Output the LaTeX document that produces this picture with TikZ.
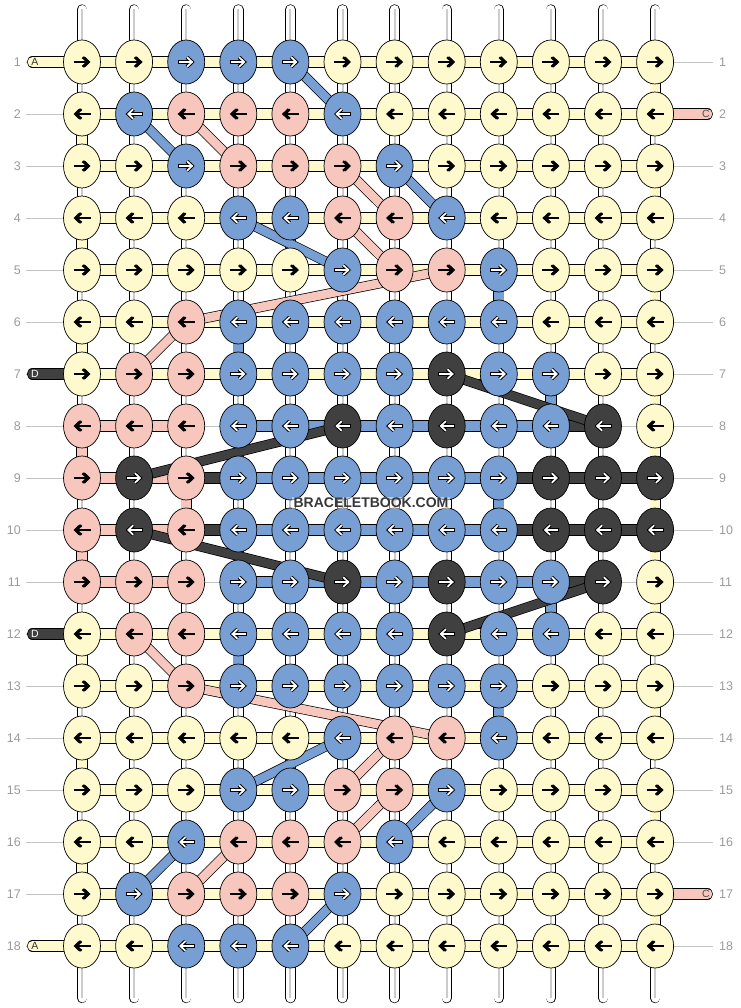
\documentclass[tikz,border=0pt]{standalone}
\usepackage{fontspec}
\setmainfont{Liberation Sans}
\usetikzlibrary{arrows.meta,shapes.geometric}

\definecolor{ky}{HTML}{FFFACD}
\definecolor{kb}{HTML}{789FD3}
\definecolor{kp}{HTML}{F7C7BE}
\definecolor{kd}{HTML}{404040}
\definecolor{lblgray}{HTML}{9B9B9B}
\definecolor{linegray}{HTML}{C4C4C4}

\pgfdeclarelayer{back}
\pgfdeclarelayer{mid}
\pgfsetlayers{back,mid,main}

\tikzset{
	knot/.style={ellipse,draw=black,line width=0.7pt,minimum width=37pt,minimum height=44pt,inner sep=0pt,fill=#1},
	band/.style={draw=black,line width=0.7pt,double=#1,double distance=9.8pt},
	strand/.style={draw=black,line width=0.7pt,double=#1,double distance=8.6pt},
	tag/.style={band=#1,line cap=round},
	warp/.style={draw=black,line width=0.7pt,double=white,double distance=9pt,line cap=round},
	warpcore/.style={draw=black!20,line width=2pt},
	rowlbl/.style={text=lblgray,font=\fontsize{12.5}{13}\selectfont,inner sep=2.5pt},
	rowline/.style={draw=linegray,line width=0.8pt},
	taglbl/.style={font=\fontsize{10.5}{11}\selectfont,inner sep=0pt},
	tipb/.style={-{Straight Barb[length=5pt,width=9.5pt]}},
	arrback y/.style={tipb,black,line width=2.2pt},
	arrback p/.style={arrback y},
	arrback b/.style={tipb,black,line width=3.8pt},
	arrback d/.style={arrback b},
	arrfront y/.style={arrback y},
	arrfront p/.style={arrback y},
	arrfront b/.style={tipb,white,line width=1.7pt},
	arrfront d/.style={arrfront b}
}

% knot at row #1, column #2, colour #3
\newcommand{\putknot}[3]{%
	\node[knot=k#3] (k#1-#2) at ({82+52.1*(#2-1)},{62+52*(#1-1)}) {};
	\ifodd#1\relax\def\ta{-}\def\tb{}\else\def\ta{}\def\tb{-}\fi
	\draw[arrback #3] ([xshift=\ta 8.5pt]k#1-#2.center) -- ([xshift=\tb 8.5pt]k#1-#2.center);
	\draw[arrfront #3] ([xshift=\ta 7.5pt]k#1-#2.center) -- ([xshift=\tb 7.1pt]k#1-#2.center);
}
\newcommand{\knotrow}[2]{\foreach \k [count=\c] in {#2} {\edef\knotcall{\noexpand\putknot{#1}{\c}{\k}}\knotcall}}

\begin{document}
\begin{tikzpicture}[x=1pt,y=-1pt]
	\useasboundingbox (0,0) rectangle (740,1008);

	\knotrow{1}{y,y,b,b,b,y,y,y,y,y,y,y}
	\knotrow{2}{y,b,p,p,p,b,y,y,y,y,y,y}
	\knotrow{3}{y,y,b,p,p,p,b,y,y,y,y,y}
	\knotrow{4}{y,y,y,b,b,p,p,b,y,y,y,y}
	\knotrow{5}{y,y,y,y,y,b,p,p,b,y,y,y}
	\knotrow{6}{y,y,p,b,b,b,b,b,b,y,y,y}
	\knotrow{7}{y,p,p,b,b,b,b,d,b,b,y,y}
	\knotrow{8}{p,p,p,b,b,d,b,d,b,b,d,y}
	\knotrow{9}{p,d,p,b,b,b,b,b,b,d,d,d}
	\knotrow{10}{p,d,p,b,b,b,b,b,b,d,d,d}
	\knotrow{11}{p,p,p,b,b,d,b,d,b,b,d,y}
	\knotrow{12}{y,p,p,b,b,b,b,d,b,b,y,y}
	\knotrow{13}{y,y,p,b,b,b,b,b,b,y,y,y}
	\knotrow{14}{y,y,y,y,y,b,p,p,b,y,y,y}
	\knotrow{15}{y,y,y,b,b,p,p,b,y,y,y,y}
	\knotrow{16}{y,y,b,p,p,p,b,y,y,y,y,y}
	\knotrow{17}{y,b,p,p,p,b,y,y,y,y,y,y}
	\knotrow{18}{y,y,b,b,b,y,y,y,y,y,y,y}

	\foreach \r in {1,...,18} {
		\node[rowlbl,anchor=east] (ll-\r) at (23.5,{62+52*(\r-1)}) {\r};
		\node[rowlbl,anchor=west] (rl-\r) at (716.5,{62+52*(\r-1)}) {\r};
	}
	\foreach \c in {1,...,12} {
		\coordinate (wt-\c) at ({82+52.1*(\c-1)},9.5);
		\coordinate (wb-\c) at ({82+52.1*(\c-1)},998);
	}
	\coordinate (ta-1) at (32.5,62);
	\coordinate (ta-18) at (32.5,946);
	\coordinate (td-7) at (32.5,374);
	\coordinate (td-12) at (32.5,634);
	\coordinate (tc-2) at (707.4,114);
	\coordinate (tc-17) at (707.4,894);

	\begin{pgfonlayer}{back}
		\foreach \r in {1,...,18}
			\draw[rowline,shorten <=2.5pt,shorten >=3.5pt] (ll-\r.east) -- (rl-\r.west);
		\foreach \c in {1,...,12} {
			\draw[warp] (wt-\c) -- (wb-\c);
			\draw[warpcore] (wt-\c) -- (wb-\c);
		}
	\end{pgfonlayer}

	\begin{pgfonlayer}{mid}
		% weft between knots
		\foreach \r in {1,...,7,12,13,...,18}
			\foreach \c in {1,...,11} {
				\pgfmathtruncatemacro\n{\c+1}
				\draw[band=ky] (k\r-\c.center) -- (k\r-\n.center);
			}
		\foreach \r in {8,11}
			\foreach \c/\hc in {1/kp,2/kp,4/kb,5/kb,6/kb,7/kb,8/kb,9/kb,10/kd} {
				\pgfmathtruncatemacro\n{\c+1}
				\draw[band=\hc] (k\r-\c.center) -- (k\r-\n.center);
			}
		\foreach \r in {9,10}
			\foreach \c/\hc in {1/kp,2/kp,3/kd,4/kb,5/kb,6/kb,7/kb,8/kb,9/kd,10/kd,11/kd} {
				\pgfmathtruncatemacro\n{\c+1}
				\draw[band=\hc] (k\r-\c.center) -- (k\r-\n.center);
			}
		% straight runs down a column
		\foreach \r/\c/\vc in {2/1/ky,4/1/ky,6/1/ky,12/1/ky,14/1/ky,16/1/ky,
				1/12/ky,3/12/ky,5/12/ky,7/12/ky,8/12/ky,9/12/ky,10/12/ky,11/12/ky,13/12/ky,15/12/ky,17/12/ky,
				8/1/kp,10/1/kp,9/3/kp,6/4/kb,8/4/kb,10/4/kb,12/4/kb,5/9/kb,9/9/kb,13/9/kb,7/10/kb,11/10/kb} {
			\pgfmathtruncatemacro\n{\r+1}
			\draw[band=\vc] (k\r-\c.center) -- (k\n-\c.center);
		}
		% loose ends
		\draw[tag=ky] (ta-1) -- (k1-1.center);
		\draw[tag=ky] (ta-18) -- (k18-1.center);
		\draw[tag=kd] (td-7) -- (k7-1.center);
		\draw[tag=kd] (td-12) -- (k12-1.center);
		\draw[tag=kp] (tc-2) -- (k2-12.center);
		\draw[tag=kp] (tc-17) -- (k17-12.center);
		% diagonal strands
		\foreach \a/\b/\sc in {k1-5/k2-6/kb,k2-2/k3-3/kb,k3-7/k4-8/kb,k4-4/k5-6/kb,
				k18-5/k17-6/kb,k17-2/k16-3/kb,k16-7/k15-8/kb,k15-4/k14-6/kb,
				k2-3/k3-4/kp,k3-6/k4-7/kp,k4-6/k5-7/kp,k6-3/k5-8/kp,k7-2/k6-3/kp,
				k17-3/k16-4/kp,k16-6/k15-7/kp,k15-6/k14-7/kp,k13-3/k14-8/kp,k12-2/k13-3/kp,
				k7-8/k8-11/kd,k9-2/k8-6/kd,k10-2/k11-6/kd,k12-8/k11-11/kd}
			\draw[strand=\sc] (\a.center) -- (\b.center);
	\end{pgfonlayer}

	\node[taglbl,text=black!80] (la-1) at (35,62) {A};
	\node[taglbl,text=black!80] (la-18) at (35,946) {A};
	\node[taglbl,text=white] (ld-7) at (35,374) {D};
	\node[taglbl,text=white] (ld-12) at (35,634) {D};
	\node[taglbl,text=black!70] (lc-2) at (706,114) {C};
	\node[taglbl,text=black!70] (lc-17) at (706,894) {C};

	\node[fill=white,fill opacity=0.45,text opacity=1,text=black!78,inner sep=1.5pt,
		font=\fontsize{14}{14}\selectfont\bfseries] (mark) at (371,503) {BRACELETBOOK.COM};
\end{tikzpicture}
\end{document}
